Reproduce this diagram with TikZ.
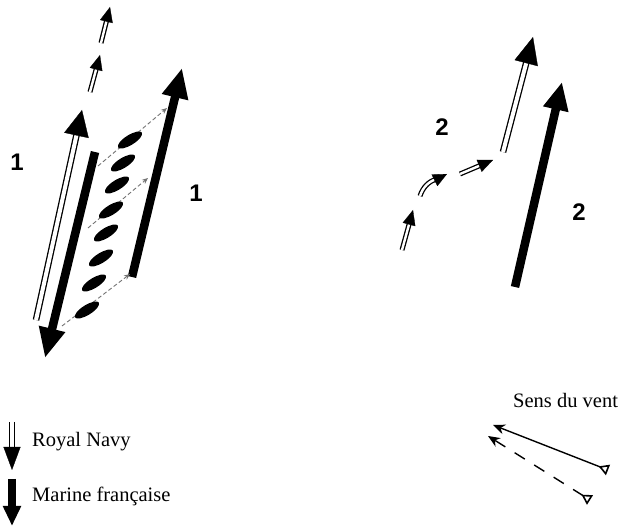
\documentclass[tikz,border=0pt]{standalone}
\usepackage{fontspec}
\setmainfont{Liberation Serif}
\newfontfamily\numfont{Liberation Sans}
\usetikzlibrary{arrows.meta,calc,shapes.geometric}
\tikzset{
  rns/.style={draw=black, double=white, line width=1.3pt, double distance=4pt},
  rnsmall/.style={draw=black, double=white, line width=1.3pt, double distance=2.4pt},
  fr/.style={line width=8.5pt},
  ship/.style={ellipse, fill=black, minimum width=28pt, minimum height=10pt, inner sep=0pt, rotate=32},
  gun/.style={black!55, line width=0.9pt, dash pattern=on 4pt off 2.5pt, -{Stealth[length=6pt,width=5pt]}},
  lbl/.style={font=\numfont\bfseries\fontsize{24}{24}\selectfont, inner sep=0pt},
  txt/.style={font=\fontsize{20.5}{22}\selectfont, anchor=base west, inner sep=0pt},
  fletch/.tip={Triangle[open,reversed,length=10pt,width=11pt,line width=1.6pt]},
  windarrow/.style={line width=1.4pt, fletch-{Stealth[length=12pt,width=10pt]}}
}
% head of a Royal Navy arrow: #1 point behind, #2 tip, #3 length, #4 width
\newcommand\rnhead[4]{\draw[line width=0.3pt,-{Triangle[length=#3pt,width=#4pt]}] ($(#2)!#3pt!(#1)$) -- (#2);}
\begin{document}
\begin{tikzpicture}[x=1pt,y=-1pt]
\useasboundingbox (0,0) rectangle (622,526);
% ---------- left group ----------
\coordinate (rnA0) at (36,320); \coordinate (rnA1) at (82,110);
\coordinate (rnB0) at (90,92);  \coordinate (rnB1) at (100,55);
\coordinate (rnC0) at (101,43); \coordinate (rnC1) at (110,7);
\coordinate (frA0) at (95,152); \coordinate (frA1) at (45,358);
\coordinate (frB0) at (132,277); \coordinate (frB1) at (182,68);
\draw[rns, shorten >=20pt] (rnA0) -- (rnA1); \rnhead{rnA0}{rnA1}{26}{25}
\draw[rnsmall, shorten >=10pt] (rnB0) -- (rnB1); \rnhead{rnB0}{rnB1}{15}{13}
\draw[rnsmall, shorten >=10pt] (rnC0) -- (rnC1); \rnhead{rnC0}{rnC1}{15}{13}
\draw[fr, -{Triangle[length=30pt,width=25pt]}] (frA0) -- (frA1);
\draw[fr, -{Triangle[length=30pt,width=25pt]}] (frB0) -- (frB1);
\coordinate (g1a) at (98,166);  \coordinate (g1b) at (167,108);
\coordinate (g2a) at (88,228);  \coordinate (g2b) at (148,178);
\coordinate (g3a) at (62,326);  \coordinate (g3b) at (130,274);
\draw[gun] (g1a) -- (g1b);
\draw[gun] (g2a) -- (g2b);
\draw[gun] (g3a) -- (g3b);
\foreach \i/\p in {1/{(130,140)},2/{(123,163)},3/{(117,185)},4/{(111,210)},5/{(106,233)},6/{(101,258)},7/{(94,283)},8/{(87,310)}}
  \node[ship] (s\i) at \p {};
\node[lbl] (n1a) at (17,162) {1};
\node[lbl] (n1b) at (196,193) {1};
% ---------- right group ----------
\coordinate (rnD0) at (503,152); \coordinate (rnD1) at (533,37);
\coordinate (frC0) at (515,287); \coordinate (frC1) at (562,82);
\draw[rns, shorten >=20pt] (rnD0) -- (rnD1); \rnhead{rnD0}{rnD1}{27}{24}
\draw[fr, -{Triangle[length=28pt,width=24pt]}] (frC0) -- (frC1);
\coordinate (m10) at (402,250); \coordinate (m11) at (413,210);
\draw[rnsmall, shorten >=10pt] (m10) -- (m11); \rnhead{m10}{m11}{15}{13}
\coordinate (m20) at (420,196); \coordinate (m2c) at (437,179); \coordinate (m21) at (447,174);
\draw[rnsmall] (m20) .. controls (423,187) and (429,181) .. (m2c); \rnhead{m2c}{m21}{14}{13}
\coordinate (m30) at (460,174); \coordinate (m31) at (493,160);
\draw[rnsmall, shorten >=10pt] (m30) -- (m31); \rnhead{m30}{m31}{15}{13}
\node[lbl] (n2a) at (442,127) {2};
\node[lbl] (n2b) at (579,212) {2};
% ---------- legend ----------
\coordinate (l10) at (12,422); \coordinate (l11) at (12,470);
\draw[rns, double distance=3.5pt, shorten >=18pt] (l10) -- (l11); \rnhead{l10}{l11}{23}{17}
\coordinate (l20) at (12,479); \coordinate (l21) at (12,526);
\draw[fr, -{Triangle[length=20pt,width=17pt]}] (l20) -- (l21);
\node[txt] (trn) at (32,447) {Royal Navy};
\node[txt] (tfr) at (32,502) {Marine française};
% ---------- wind ----------
\node[txt] (tw) at (513,408) {Sens du vent};
\coordinate (w10) at (608,470); \coordinate (w11) at (493,425);
\coordinate (w20) at (590,500); \coordinate (w21) at (488,436);
\draw[windarrow] (w10) -- (w11);
\draw[windarrow, dash pattern=on 12pt off 11pt] (w20) -- (w21);
\end{tikzpicture}
\end{document}
